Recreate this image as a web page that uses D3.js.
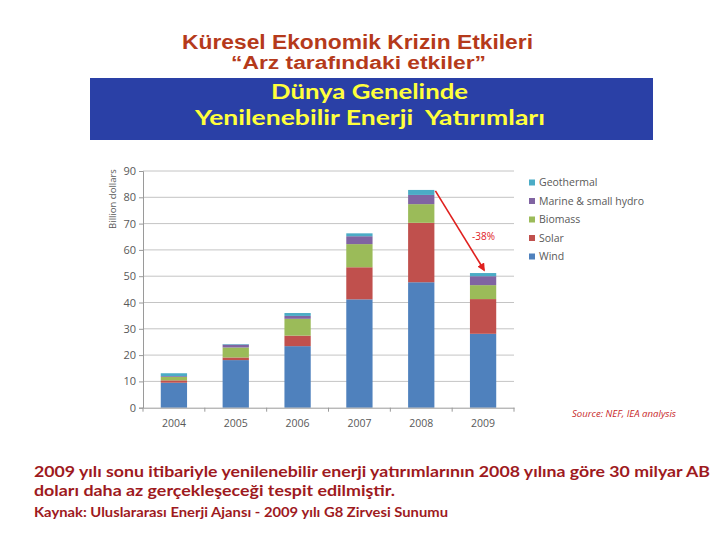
<!DOCTYPE html>
<html>
<head>
<meta charset="utf-8">
<script src="https://cdn.jsdelivr.net/npm/d3@7"></script>
<style>
  html, body { margin: 0; padding: 0; background: #ffffff; }
  svg { display: block; }
</style>
</head>
<body>
<div id="chart"></div>
<script>
// ---- data ----
const years = ["2004", "2005", "2006", "2007", "2008", "2009"];
const seriesNames = ["Wind", "Solar", "Biomass", "Marine & small hydro", "Geothermal"];
const wind       = [9.5, 18.1, 23.4, 41.2, 47.7, 28.1];
const solar      = [0.9, 1.0, 4.0, 12.2, 22.6, 13.2];
const biomass    = [1.3, 3.8, 6.4, 8.8, 7.1, 5.3];
const marine     = [0.3, 1.1, 1.1, 3.0, 3.5, 3.4];
const geothermal = [1.1, 0.2, 1.1, 1.1, 1.9, 1.2];
const yTicks = [0, 10, 20, 30, 40, 50, 60, 70, 80, 90];
const legendOrder = ["Geothermal", "Marine & small hydro", "Biomass", "Solar", "Wind"];
const changeLabel = "-38%";

const seriesValues = [wind, solar, biomass, marine, geothermal];
const colors = ["#4f81bd", "#c0504d", "#9bbb59", "#8064a2", "#4bacc6"];

const table = years.map((y, i) => {
  const row = { year: y };
  seriesNames.forEach((s, j) => row[s] = seriesValues[j][i]);
  return row;
});

const W = 720, H = 540;
const svg = d3.select("#chart").append("svg")
  .attr("width", W).attr("height", H)
  .style("font-family", "'Open Sans', 'DejaVu Sans', sans-serif");

svg.append("rect").attr("width", W).attr("height", H).attr("fill", "#ffffff");

// ---- titles ----
svg.append("text").attr("x", 182).attr("y", 48.5)
  .attr("textLength", 351).attr("lengthAdjust", "spacingAndGlyphs")
  .style("font-family", "'Liberation Sans', Arial, sans-serif")
  .style("font-weight", "bold").style("font-size", "20px")
  .attr("fill", "#b53a1b")
  .text("Küresel Ekonomik Krizin Etkileri");
svg.append("text").attr("x", 231).attr("y", 69.2)
  .attr("textLength", 255).attr("lengthAdjust", "spacingAndGlyphs")
  .style("font-family", "'Liberation Sans', Arial, sans-serif")
  .style("font-weight", "bold").style("font-size", "18px")
  .attr("fill", "#b53a1b")
  .text("“Arz tarafındaki etkiler”");

// blue banner
svg.append("rect").attr("x", 90).attr("y", 78).attr("width", 563).attr("height", 62)
  .attr("fill", "#2a40a6");
svg.append("text").attr("x", 271).attr("y", 99)
  .attr("textLength", 197).attr("lengthAdjust", "spacingAndGlyphs")
  .style("font-family", "Lato, 'Open Sans', sans-serif")
  .style("font-weight", "bold").style("font-size", "21px")
  .attr("fill", "#ffff3c")
  .text("Dünya Genelinde");
svg.append("text").attr("x", 195).attr("y", 125)
  .attr("textLength", 350).attr("lengthAdjust", "spacingAndGlyphs")
  .style("font-family", "Lato, 'Open Sans', sans-serif")
  .style("font-weight", "bold").style("font-size", "21px")
  .style("white-space", "pre")
  .attr("fill", "#ffff3c")
  .text("Yenilenebilir Enerji  Yatırımları");

// ---- chart ----
const x = d3.scaleBand().domain(years).range([143, 514])
  .paddingInner(0.575).paddingOuter(0.2875);
const y = d3.scaleLinear().domain([0, 90]).range([407.7, 171]);

// gridlines
svg.append("g").selectAll("line").data(yTicks.filter(d => d > 0)).join("line")
  .attr("x1", 143).attr("x2", 514)
  .attr("y1", d => y(d)).attr("y2", d => y(d))
  .attr("stroke", "#c4c4c4").attr("stroke-width", 1);

// stacked bars
const stack = d3.stack().keys(seriesNames);
const stacked = stack(table);
svg.append("g").selectAll("g").data(stacked).join("g")
  .attr("fill", (d, i) => colors[i])
  .selectAll("rect").data(d => d).join("rect")
  .attr("x", d => x(d.data.year))
  .attr("width", x.bandwidth())
  .attr("y", d => y(d[1]))
  .attr("height", d => y(d[0]) - y(d[1]));

// y axis
const yAxis = d3.axisLeft(y).tickValues(yTicks).tickSize(4).tickPadding(3);
const gy = svg.append("g").attr("transform", "translate(143,0)").call(yAxis);
gy.select(".domain").attr("stroke", "#9a9a9a");
gy.selectAll(".tick line").attr("stroke", "#9a9a9a");
gy.selectAll(".tick text").attr("fill", "#595959")
  .style("font-family", "'Open Sans', sans-serif").style("font-size", "11px");

// x axis
const xAxis = d3.axisBottom(x).tickSize(0).tickPadding(12);
const gx = svg.append("g").attr("transform", `translate(0,${y(0)})`).call(xAxis);
gx.select(".domain").attr("stroke", "#9a9a9a");
gx.selectAll(".tick text").attr("fill", "#595959")
  .style("font-family", "'Open Sans', sans-serif").style("font-size", "10.5px");
// separator ticks between categories
const step = x.step();
const sepPos = d3.range(years.length + 1).map(i => x.range()[0] + i * step);
svg.append("g").selectAll("line").data(sepPos).join("line")
  .attr("x1", d => d).attr("x2", d => d)
  .attr("y1", y(0)).attr("y2", y(0) + 4)
  .attr("stroke", "#9a9a9a");

// y axis label
svg.append("text")
  .attr("transform", "translate(116,199) rotate(-90)")
  .attr("text-anchor", "middle")
  .attr("fill", "#595959")
  .style("font-size", "9.5px")
  .text("Billion dollars");

// legend
const lg = svg.append("g");
legendOrder.forEach((name, i) => {
  const ci = seriesNames.indexOf(name);
  const ly = 182.5 + i * 18.5;
  lg.append("rect").attr("x", 529).attr("y", ly - 3).attr("width", 6).attr("height", 6)
    .attr("fill", colors[ci]);
  lg.append("text").attr("x", 539).attr("y", ly + 3.8)
    .attr("fill", "#595959").style("font-size", "10.5px")
    .text(name);
});

// arrow annotation
const defs = svg.append("defs");
defs.append("marker").attr("id", "ah").attr("viewBox", "0 0 10 10")
  .attr("refX", 8).attr("refY", 5).attr("markerWidth", 5).attr("markerHeight", 5)
  .attr("orient", "auto")
  .append("path").attr("d", "M0,0 L10,5 L0,10 z").attr("fill", "#e0201e");
const i08 = years.indexOf("2008"), i09 = years.indexOf("2009");
const tot = i => seriesValues.reduce((s, arr) => s + arr[i], 0);
svg.append("line")
  .attr("x1", x("2008") + x.bandwidth() + 1).attr("y1", y(tot(i08)) + 1)
  .attr("x2", x("2009") + x.bandwidth() / 2 + 1).attr("y2", y(tot(i09)) - 3)
  .attr("stroke", "#e0201e").attr("stroke-width", 1.6)
  .attr("marker-end", "url(#ah)");
svg.append("text").attr("x", 472).attr("y", 240)
  .attr("fill", "#e0201e").style("font-size", "10px")
  .text(changeLabel);

// source
svg.append("text").attr("x", 572).attr("y", 417)
  .attr("textLength", 104).attr("lengthAdjust", "spacingAndGlyphs")
  .attr("fill", "#c8282a").style("font-size", "9px").style("font-style", "italic")
  .text("Source: NEF, IEA analysis");

// ---- bottom text ----
const bt = svg.append("g").attr("fill", "#9e1a1e")
  .style("font-family", "Lato, 'Open Sans', sans-serif").style("font-weight", "bold");
bt.append("text").attr("x", 34).attr("y", 476.5)
  .attr("textLength", 676).attr("lengthAdjust", "spacingAndGlyphs")
  .style("font-size", "16px")
  .text("2009 yılı sonu itibariyle yenilenebilir enerji yatırımlarının 2008 yılına göre 30 milyar AB");
bt.append("text").attr("x", 34).attr("y", 495.5)
  .attr("textLength", 361).attr("lengthAdjust", "spacingAndGlyphs")
  .style("font-size", "16px")
  .text("doları daha az gerçekleşeceği tespit edilmiştir.");
bt.append("text").attr("x", 34).attr("y", 516.5)
  .attr("textLength", 414).attr("lengthAdjust", "spacingAndGlyphs")
  .style("font-size", "13px")
  .text("Kaynak: Uluslararası Enerji Ajansı - 2009 yılı G8 Zirvesi Sunumu");
</script>
</body>
</html>
